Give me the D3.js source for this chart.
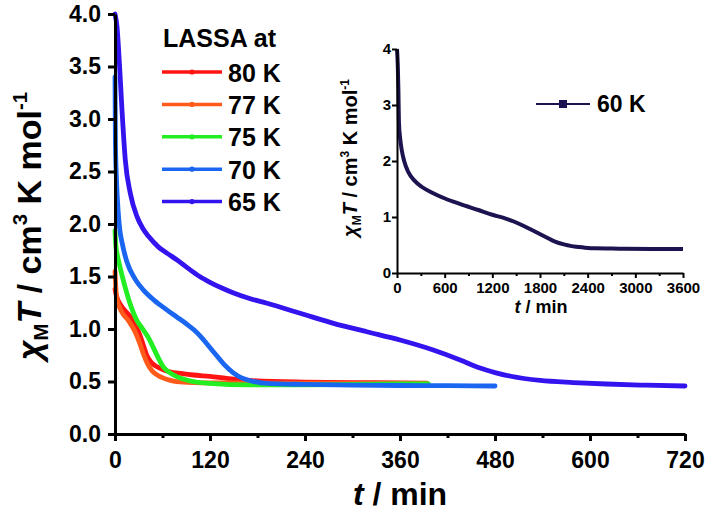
<!DOCTYPE html>
<html><head><meta charset="utf-8">
<script src="https://cdn.jsdelivr.net/npm/d3@7"></script>
<style>body{margin:0;background:#fff}svg{display:block}text{font-family:Arial,"Liberation Sans",sans-serif}</style>
</head><body><svg id="c" width="708" height="512"></svg>
<script>
// ---- data ----
const seriesNames = ["80 K", "77 K", "75 K", "70 K", "65 K"];
const seriesColors = ["#ff1414", "#ff5a1a", "#22ee22", "#1a66f0", "#3414ee"];
const t80 = [0, 2, 8, 19, 27, 32, 36, 40, 46, 53, 60, 69, 85, 99, 120, 141, 170, 200, 240, 300, 360, 394];
const v80 = [1.38, 1.31, 1.22, 1.12, 1.02, 0.93, 0.84, 0.75, 0.68, 0.64, 0.615, 0.593, 0.575, 0.562, 0.548, 0.53, 0.51, 0.5, 0.495, 0.49, 0.487, 0.485];
const t77 = [0, 2, 8, 17, 25, 31, 36, 41, 47, 57, 68, 78, 100, 130, 170, 240, 300, 360, 394];
const v77 = [1.55, 1.3, 1.17, 1.08, 0.98, 0.87, 0.76, 0.67, 0.6, 0.546, 0.515, 0.498, 0.49, 0.487, 0.485, 0.484, 0.483, 0.482, 0.482];
const t75 = [0, 1, 3, 6, 12, 20, 27, 35, 42, 48, 55, 61, 70, 78, 95, 120, 170, 240, 300, 360, 396];
const v75 = [1.94, 1.8, 1.7, 1.6, 1.42, 1.22, 1.09, 1.0, 0.92, 0.83, 0.72, 0.64, 0.58, 0.546, 0.505, 0.482, 0.467, 0.468, 0.472, 0.476, 0.478];
const t70 = [0, 0.5, 2, 4, 6, 9, 15, 25, 36, 50, 65, 78, 90, 100, 108, 117, 128, 138, 149, 160, 170, 192, 240, 300, 360, 420, 480];
const v70 = [3.4, 2.8, 2.4, 2.12, 1.95, 1.82, 1.64, 1.48, 1.37, 1.27, 1.185, 1.115, 1.05, 0.99, 0.93, 0.85, 0.75, 0.66, 0.585, 0.535, 0.51, 0.482, 0.472, 0.465, 0.462, 0.46, 0.457];
const t65 = [0, 2.5, 5.5, 8.8, 13, 19.4, 27.8, 35, 42.6, 55, 66, 78, 92, 107, 120, 135, 149, 170, 192, 234, 276, 318, 360, 402, 436, 460, 480, 500, 537, 579, 621, 670, 720];
const v65 = [4.0, 3.88, 3.54, 3.09, 2.61, 2.29, 2.07, 1.96, 1.88, 1.78, 1.72, 1.66, 1.58, 1.5, 1.445, 1.39, 1.345, 1.29, 1.245, 1.15, 1.054, 0.974, 0.895, 0.8, 0.705, 0.63, 0.585, 0.55, 0.51, 0.49, 0.476, 0.465, 0.457];
const seriesT = [t80, t77, t75, t70, t65];
const seriesV = [v80, v77, v75, v70, v65];
const xTicks = [0, 120, 240, 360, 480, 600, 720];
const xMinor = [60, 180, 300, 420, 540, 660];
const yTicks = [0, 0.5, 1.0, 1.5, 2.0, 2.5, 3.0, 3.5, 4.0];
// inset (60 K)
const insetName = "60 K";
const insetColor = "#1c1450";
const tIn = [0, 10, 17, 25, 40, 59, 90, 143, 220, 310, 450, 604, 800, 1024, 1200, 1360, 1470, 1570, 1680, 1779, 1890, 1989, 2100, 2199, 2350, 2492, 2800, 3200, 3600];
const vIn = [4.0, 3.7, 3.3, 2.67, 2.4, 2.2, 2.0, 1.8, 1.65, 1.54, 1.43, 1.33, 1.23, 1.125, 1.04, 0.977, 0.92, 0.857, 0.78, 0.71, 0.63, 0.56, 0.51, 0.48, 0.455, 0.44, 0.435, 0.43, 0.43];
const inXTicks = [0, 600, 1200, 1800, 2400, 3000, 3600];
const inXMinor = [300, 900, 1500, 2100, 2700, 3300];
const inYTicks = [0, 1, 2, 3, 4];

const svg = d3.select("#c");

// ---- main chart ----
const x = d3.scaleLinear().domain([0, 720]).range([115, 685]);
const y = d3.scaleLinear().domain([0, 4]).range([434, 14]);
const line = d3.line().x(d => x(d[0])).y(d => y(d[1])).curve(d3.curveMonotoneX);

seriesNames.forEach((n, i) => {
  const pts = seriesT[i].map((t, k) => [t, seriesV[i][k]]);
  svg.append("path").datum(pts).attr("d", line)
    .attr("fill", "none").attr("stroke", seriesColors[i])
    .attr("stroke-width", 4.8).attr("stroke-linejoin", "round").attr("stroke-linecap", "round");
});

function styleAxis(g, sw) {
  g.select(".domain").attr("stroke", "#000").attr("stroke-width", sw);
  g.selectAll(".tick line").attr("stroke", "#000").attr("stroke-width", sw);
}

const gx = svg.append("g").attr("transform", "translate(0,434)")
  .call(d3.axisBottom(x).tickValues(xTicks).tickSize(7).tickPadding(11).tickSizeOuter(0).tickFormat(d3.format("d")));
gx.selectAll("text").attr("font-size", 23).attr("font-weight", "bold").attr("fill", "#000");
styleAxis(gx, 3);
const gxm = svg.append("g").attr("transform", "translate(0,434)")
  .call(d3.axisBottom(x).tickValues(xMinor).tickSize(4).tickFormat(""));
gxm.select(".domain").remove();
gxm.selectAll(".tick line").attr("stroke", "#000").attr("stroke-width", 3);

const gy = svg.append("g").attr("transform", "translate(115,0)")
  .call(d3.axisLeft(y).tickValues(yTicks).tickSize(7).tickPadding(7).tickSizeOuter(0).tickFormat(d3.format(".1f")));
gy.selectAll("text").attr("font-size", 23).attr("font-weight", "bold").attr("fill", "#000");
styleAxis(gy, 3);

// axis titles
const xt = svg.append("text").attr("x", 400).attr("y", 505).attr("text-anchor", "middle")
  .attr("font-size", 32).attr("font-weight", "bold");
xt.append("tspan").attr("font-style", "italic").text("t");
xt.append("tspan").text(" / min");

function yTitle(cx, cy, fs) {
  const t = svg.append("text").attr("transform", `translate(${cx},${cy}) rotate(-90)`)
    .attr("text-anchor", "middle").attr("font-size", fs).attr("font-weight", "bold");
  t.append("tspan").attr("font-style", "italic").text("χ");
  t.append("tspan").attr("font-size", fs * 0.6).attr("dy", fs * 0.22).text("M");
  t.append("tspan").attr("font-style", "italic").attr("dy", -fs * 0.22).text("T");
  t.append("tspan").text(" / cm");
  t.append("tspan").attr("font-size", fs * 0.6).attr("dy", -fs * 0.4).text("3");
  t.append("tspan").attr("dy", fs * 0.4).text(" K mol");
  t.append("tspan").attr("font-size", fs * 0.6).attr("dy", -fs * 0.4).text("-1");
}
yTitle(41, 226, 34);

// legend
svg.append("text").attr("x", 163).attr("y", 47).attr("font-size", 25).attr("font-weight", "bold").text("LASSA at");
seriesNames.forEach((n, i) => {
  const ly = 72 + i * 32.4;
  svg.append("line").attr("x1", 162).attr("x2", 222).attr("y1", ly).attr("y2", ly)
    .attr("stroke", seriesColors[i]).attr("stroke-width", 3.5);
  svg.append("circle").attr("cx", 192).attr("cy", ly).attr("r", 2.6).attr("fill", seriesColors[i]);
  svg.append("text").attr("x", 228).attr("y", ly + 9.5).attr("font-size", 25).attr("font-weight", "bold").text(n);
});

// ---- inset ----
const xi = d3.scaleLinear().domain([0, 3600]).range([397, 683]);
const yi = d3.scaleLinear().domain([0, 4]).range([273, 49]);
const lineI = d3.line().x(d => xi(d[0])).y(d => yi(d[1])).curve(d3.curveMonotoneX);
svg.append("path").datum(tIn.map((t, k) => [t, vIn[k]])).attr("d", lineI)
  .attr("fill", "none").attr("stroke", insetColor).attr("stroke-width", 4).attr("stroke-linejoin", "round");

const gxi = svg.append("g").attr("transform", "translate(0,273)")
  .call(d3.axisBottom(xi).tickValues(inXTicks).tickSize(5).tickPadding(4).tickSizeOuter(0).tickFormat(d3.format("d")));
gxi.selectAll("text").attr("font-size", 15).attr("font-weight", "bold").attr("fill", "#000");
styleAxis(gxi, 2);
const gxim = svg.append("g").attr("transform", "translate(0,273)")
  .call(d3.axisBottom(xi).tickValues(inXMinor).tickSize(3).tickFormat(""));
gxim.select(".domain").remove();
gxim.selectAll(".tick line").attr("stroke", "#000").attr("stroke-width", 2);

const gyi = svg.append("g").attr("transform", "translate(397,0)")
  .call(d3.axisLeft(yi).tickValues(inYTicks).tickSize(5).tickPadding(1).tickSizeOuter(0).tickFormat(d3.format("d")));
gyi.selectAll("text").attr("font-size", 15).attr("font-weight", "bold").attr("fill", "#000");
styleAxis(gyi, 2);

const xti = svg.append("text").attr("x", 541).attr("y", 313).attr("text-anchor", "middle")
  .attr("font-size", 18).attr("font-weight", "bold");
xti.append("tspan").attr("font-style", "italic").text("t");
xti.append("tspan").text(" / min");
yTitle(357, 158, 20);

// inset legend
svg.append("line").attr("x1", 536).attr("x2", 590).attr("y1", 104).attr("y2", 104)
  .attr("stroke", insetColor).attr("stroke-width", 1.8);
svg.append("rect").attr("x", 559).attr("y", 100).attr("width", 8).attr("height", 8).attr("fill", insetColor);
svg.append("text").attr("x", 597).attr("y", 112).attr("font-size", 23).attr("font-weight", "bold").text(insetName);
</script></body></html>
